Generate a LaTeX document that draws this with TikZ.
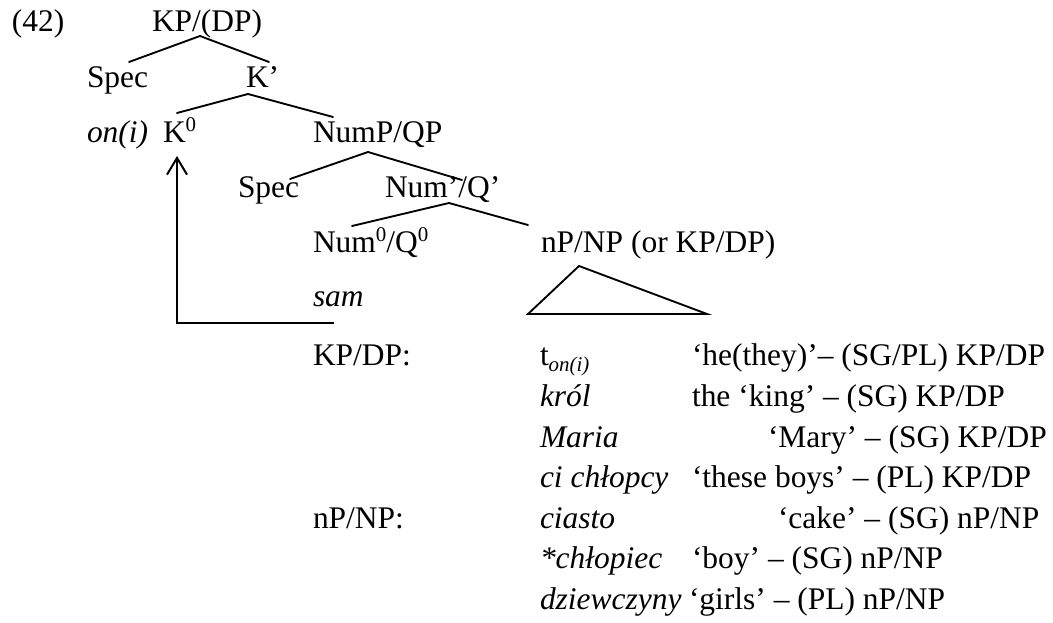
\documentclass[tikz,border=0pt]{standalone}
\usepackage{fontspec}
\setmainfont{Liberation Serif}
\usetikzlibrary{arrows.meta}
% small raised / lowered text for heads and traces
\newcommand{\hisup}[1]{\raisebox{0.36em}{\fontsize{15.7}{16}\selectfont #1}}
\newcommand{\losub}[1]{\raisebox{-0.16em}{\fontsize{15.7}{16}\selectfont\itshape #1}}
\begin{document}
\begin{tikzpicture}[x=0.75pt,y=-0.75pt,
  lbl/.style={anchor=base west,inner sep=0pt,outer sep=0pt,font=\fontsize{23.6}{28}\selectfont},
  ilbl/.style={lbl,font=\fontsize{23.6}{28}\selectfont\itshape},
  branch/.style={line width=1.4pt,line cap=round},
  movearrow/.style={line width=1.5pt,-{Straight Barb[length=12.5pt,width=15pt,line width=1.5pt]}}]
\path[use as bounding box] (0,0) rectangle (1053,623);

% tree labels
\node[lbl] (ex) at (12,32) {(42)};
\node[lbl] (kp) at (152,32) {KP/(DP)};
\node[lbl] (spec1) at (87,88) {Spec};
\node[lbl] (kbar) at (246,88) {K’};
\node[ilbl] (oni) at (87,143) {on(i)};
\node[lbl] (k0) at (163,143) {K\hisup{0}};
\node[lbl] (nump) at (313,143) {NumP/QP};
\node[lbl] (spec2) at (238,198) {Spec};
\node[lbl] (numbar) at (385,198) {Num’/Q’};
\node[lbl] (num0) at (313,253) {Num\hisup{0}/Q\hisup{0}};
\node[lbl] (np) at (541,253) {nP/NP (or KP/DP)};
\node[ilbl] (sam) at (313,307) {sam};

% branch end points
\coordinate (kp-a) at (200,36);
\coordinate (spec1-t) at (129,62);
\coordinate (kbar-t) at (269,62);
\coordinate (kbar-a) at (248,94);
\coordinate (k0-t) at (177,113);
\coordinate (nump-t) at (333,117);
\coordinate (nump-a) at (368,152);
\coordinate (spec2-t) at (290,179);
\coordinate (numbar-t) at (462,180);
\coordinate (numbar-a) at (449,203);
\coordinate (num0-t) at (352,226);
\coordinate (np-t) at (528,225);
\coordinate (tri-a) at (579,266);
\coordinate (tri-l) at (528,314);
\coordinate (tri-r) at (707,314);
\coordinate (mv-s) at (334,323);
\coordinate (mv-t) at (177,156);

\draw[branch] (kp-a) -- (spec1-t);
\draw[branch] (kp-a) -- (kbar-t);
\draw[branch] (kbar-a) -- (k0-t);
\draw[branch] (kbar-a) -- (nump-t);
\draw[branch] (nump-a) -- (spec2-t);
\draw[branch] (nump-a) -- (numbar-t);
\draw[branch] (numbar-a) -- (num0-t);
\draw[branch] (numbar-a) -- (np-t);
\draw[branch,line join=miter] (tri-a) -- (tri-l) -- (tri-r) -- cycle;

% head movement of on(i) to K
\draw[movearrow] (mv-s) -| (mv-t);

% possible complements
\node[lbl] (kpdp) at (313,366) {KP/DP:};
\node[lbl] (npnp) at (313,528) {nP/NP:};

\node[lbl] (w1) at (540,366) {t\losub{on(i)}};
\node[ilbl] (w2) at (540,406.5) {król};
\node[ilbl] (w3) at (540,447) {Maria};
\node[ilbl] (w4) at (540,487.5) {ci chłopcy};
\node[ilbl] (w5) at (540,528) {ciasto};
\node[ilbl] (w6) at (540,568.5) {*chłopiec};
\node[ilbl] (w7) at (540,609) {dziewczyny};

\node[lbl] (g1) at (692,366) {‘he(they)’– (SG/PL) KP/DP};
\node[lbl] (g2) at (692,406.5) {the ‘king’ – (SG) KP/DP};
\node[lbl] (g3) at (768,447) {‘Mary’ – (SG) KP/DP};
\node[lbl] (g4) at (692,487.5) {‘these boys’ – (PL) KP/DP};
\node[lbl] (g5) at (778,528) {‘cake’ – (SG) nP/NP};
\node[lbl] (g6) at (692,568.5) {‘boy’ – (SG) nP/NP};
\node[lbl] (g7) at (689,609) {‘girls’ – (PL) nP/NP};
\end{tikzpicture}
\end{document}
